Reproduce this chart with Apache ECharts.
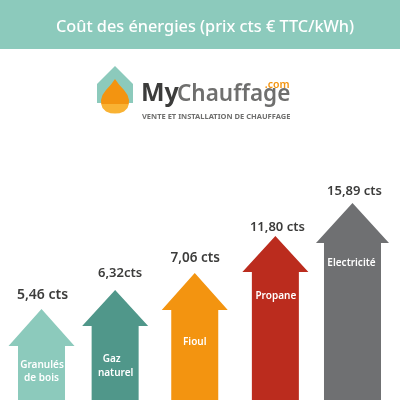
<!DOCTYPE html>
<html>
<head>
<meta charset="utf-8">
<style>
  html, body { margin: 0; padding: 0; background: #fff; }
  #chart { width: 400px; height: 401px; }
</style>
<script src="https://cdn.jsdelivr.net/npm/echarts@6/dist/echarts.min.js"></script>
</head>
<body>
<div id="chart"></div>
<script>
// data
var categories = ['Granulés de bois', 'Gaz naturel', 'Fioul', 'Propane', 'Electricité'];
var priceLabels = ['5,46 cts', '6,32cts', '7,06 cts', '11,80 cts', '15,89 cts'];
var arrowHeights = [91, 110, 127, 164, 197]; // the arrows are not to scale with the prices

// drawing details per arrow, in pixels
var colors = ['#8ccabc', '#50978a', '#f39410', '#bb2c1e', '#6f7072'];
var shiftX = [0, -4, -2, 1, 0.5];
var headW = [66, 66, 66, 66, 73];
var shaftW = [47, 47, 47, 47, 57];
var headH = [37, 36, 37, 36, 40];
var priceAt = [[1, -14], [5, -17], [0.5, -15], [2, -9], [2, -12]];
var priceSize = [14, 13, 13.5, 13, 13];
var nameLines = [
  [['Granulés', 0.5, 56], ['de bois', 0, 69]],
  [['Gaz', -3.5, 69], ['naturel', 0.5, 83]],
  [['Fioul', 0, 69]],
  [['Propane', 0.5, 60]],
  [['Electricité', -1, 60]]
];

var font = '"Noto Sans", sans-serif';

function renderArrow(params, api) {
  var i = params.dataIndex;
  var tip = api.coord([i, api.value(1)]);
  var base = api.coord([i, 0]);
  var cx = tip[0] + shiftX[i];
  var hw = headW[i] / 2;
  var sw = shaftW[i] / 2;
  var neck = tip[1] + headH[i];
  var children = [{
    type: 'polygon',
    shape: {
      points: [
        [cx, tip[1]], [cx + hw, neck], [cx + sw, neck], [cx + sw, base[1]],
        [cx - sw, base[1]], [cx - sw, neck], [cx - hw, neck]
      ]
    },
    style: { fill: colors[i] }
  }, {
    type: 'text',
    style: {
      x: cx + priceAt[i][0], y: tip[1] + priceAt[i][1],
      text: priceLabels[i], fill: '#3c3c3b',
      font: '600 ' + priceSize[i] + 'px ' + font, align: 'center', verticalAlign: 'middle'
    }
  }];
  nameLines[i].forEach(function (l) {
    children.push({
      type: 'text',
      style: {
        x: cx + l[1], y: tip[1] + l[2],
        text: l[0], fill: '#fff',
        font: '600 10px ' + font, align: 'center', verticalAlign: 'middle'
      }
    });
  });
  return { type: 'group', children: children };
}

var myChart = echarts.init(document.getElementById('chart'));

var option = {
  animation: false,
  backgroundColor: '#fff',
  grid: { left: 2.7, right: 9.2, top: 0, bottom: 1 },
  xAxis: { type: 'category', data: categories, show: false },
  yAxis: { type: 'value', min: 0, max: 400, show: false },
  graphic: [
    { type: 'rect', shape: { x: 0, y: 0, width: 400, height: 49 }, style: { fill: '#8ccabc' } },
    {
      type: 'text', x: 205, y: 27,
      style: {
        text: 'Coût des énergies (prix cts € TTC/kWh)', fill: '#fff',
        font: '500 16.3px ' + font, align: 'center', verticalAlign: 'middle'
      }
    },
    // logo
    { type: 'polygon', shape: { points: [[115, 66], [133, 84], [133, 103], [97, 103], [97, 84]] }, style: { fill: '#8ccabc' } },
    { type: 'polygon', shape: { points: [[101.2, 104], [128.8, 104], [127.5, 108], [124, 111.5], [119.5, 113.2], [115, 113.6], [110.5, 113.2], [106, 111.5], [102.5, 108]] }, style: { fill: '#f9b233' } },
    { type: 'polygon', shape: { points: [[115, 79], [119, 84.5], [124, 90], [127.5, 95], [129, 100], [128.8, 104], [101.2, 104], [101, 100], [102.5, 95], [106, 90], [111, 84.5]] }, style: { fill: '#f39410' } },
    {
      type: 'text', x: 141, y: 106,
      style: {
        text: 'My', fill: '#3c3c3b',
        font: '700 25px ' + font, align: 'left', verticalAlign: 'bottom'
      }
    },
    {
      type: 'text', x: 177, y: 106,
      style: {
        text: 'Chauffage', fill: '#6f6f6e',
        font: '600 22.5px ' + font, align: 'left', verticalAlign: 'bottom'
      }
    },
    {
      type: 'text', x: 289.5, y: 85,
      style: {
        text: '.com', fill: '#f39410',
        font: '600 10.5px ' + font, align: 'right', verticalAlign: 'middle'
      }
    },
    {
      type: 'text', x: 142, y: 117,
      style: {
        text: 'VENTE ET INSTALLATION DE CHAUFFAGE', fill: '#6f6f6e',
        font: '700 7.5px ' + font, align: 'left', verticalAlign: 'middle'
      }
    }
  ],
  series: [{
    type: 'custom',
    renderItem: renderArrow,
    encode: { x: 0, y: 1 },
    data: arrowHeights.map(function (h, i) { return [i, h]; })
  }]
};

myChart.setOption(option);
</script>
</body>
</html>
